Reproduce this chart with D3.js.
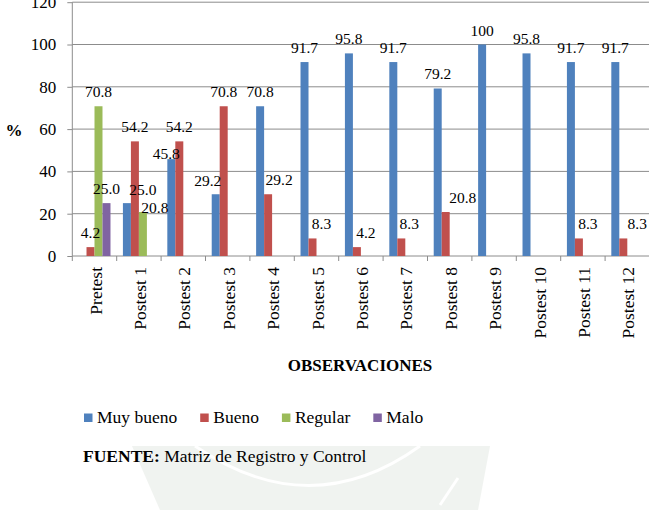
<!DOCTYPE html>
<html>
<head>
<meta charset="utf-8">
<script src="https://cdn.jsdelivr.net/npm/d3@7"></script>
<style>
  html, body { margin: 0; padding: 0; background: #fff; }
  svg { display: block; }
  svg text { font-family: "Liberation Serif", "Times New Roman", serif !important; fill: #000; }
</style>
</head>
<body>
<svg id="chart" width="649" height="510"></svg>
<script>
// ---- data ----
const categories = ["Pretest", "Postest 1", "Postest 2", "Postest 3", "Postest 4", "Postest 5",
  "Postest 6", "Postest 7", "Postest 8", "Postest 9", "Postest 10", "Postest 11", "Postest 12"];
const seriesNames = ["Muy bueno", "Bueno", "Regular", "Malo"];
const muyBueno = [null, 25.0, 45.8, 29.2, 70.8, 91.7, 95.8, 91.7, 79.2, 100, 95.8, 91.7, 91.7];
const bueno    = [4.2, 54.2, 54.2, 70.8, 29.2, 8.3, 4.2, 8.3, 20.8, null, null, 8.3, 8.3];
const regular  = [70.8, 20.8, null, null, null, null, null, null, null, null, null, null, null];
const malo     = [25.0, null, null, null, null, null, null, null, null, null, null, null, null];
const yTicks = [0, 20, 40, 60, 80, 100, 120];

// ---- styling / layout ----
const FONT = "Liberation Serif";
const colors = ["#4F81BD", "#C0504D", "#9BBB59", "#8064A2"];
const seriesValues = [muyBueno, bueno, regular, malo];
// label nudges (layout only): key "category|seriesIndex" -> [dx, dy]
const labelNudge = {
  "Postest 1|0": [16, 1], "Postest 1|2": [12, 10], "Postest 2|0": [-5, 9],
  "Postest 3|0": [-8, 1], "Postest 4|1": [11, 0], "Postest 5|1": [9, 0],
  "Postest 6|1": [9, 0], "Postest 7|1": [8, 0], "Postest 8|1": [17, 0],
  "Postest 11|1": [9, 0], "Postest 12|1": [14, 0]
};

const svg = d3.select("#chart");
const plot = { left: 72.3, right: 649.5, top: 2.2, bottom: 256 };
const gridColor = "#8c8c8c";

// watermark (faint background emblem)
const wm = svg.append("g").attr("opacity", 0.45);
wm.append("path")
  .attr("d", "M132,446 L490,446 L478,510 L160,510 Z")
  .attr("fill", "#dfe5de");
wm.append("path")
  .attr("d", "M195,446 Q310,525 420,446")
  .attr("fill", "none").attr("stroke", "#fff").attr("stroke-width", 3);
wm.append("path")
  .attr("d", "M440,505 L458,478")
  .attr("fill", "none").attr("stroke", "#fff").attr("stroke-width", 3);

const x0 = d3.scaleBand().domain(categories)
  .range([plot.left, plot.right]).paddingInner(0.28).paddingOuter(0.14);
const x1 = d3.scaleBand().domain(d3.range(seriesNames.length))
  .range([0, x0.bandwidth()]).padding(0);
const y = d3.scaleLinear().domain([0, 120]).range([plot.bottom, plot.top]);

// gridlines
svg.append("g").selectAll("line").data(yTicks.filter(d => d > 0)).join("line")
  .attr("x1", plot.left).attr("x2", plot.right)
  .attr("y1", d => y(d)).attr("y2", d => y(d))
  .attr("stroke", gridColor).attr("stroke-width", 1);

// y axis
const yAxis = d3.axisLeft(y).tickValues(yTicks).tickSize(5).tickPadding(11).tickFormat(d3.format("d"));
const gy = svg.append("g").attr("transform", `translate(${plot.left},0)`).call(yAxis)
  .attr("font-family", FONT).attr("font-size", "17px");
gy.select(".domain").attr("stroke", gridColor).attr("d", `M-0,${plot.top}V${plot.bottom}`);
gy.selectAll(".tick line").attr("stroke", gridColor);
gy.selectAll(".tick text").attr("font-size", "17px").attr("font-family", FONT).attr("fill", "#000");

// x axis
const xStep = x0.step();
const xAxisG = svg.append("g");
xAxisG.append("line").attr("x1", plot.left).attr("x2", plot.right)
  .attr("y1", plot.bottom).attr("y2", plot.bottom).attr("stroke", gridColor);
xAxisG.selectAll("line.tk").data(d3.range(categories.length + 1)).join("line")
  .attr("class", "tk")
  .attr("x1", i => plot.left + i * xStep).attr("x2", i => plot.left + i * xStep)
  .attr("y1", plot.bottom).attr("y2", plot.bottom + 5).attr("stroke", gridColor);
xAxisG.selectAll("text").data(categories).join("text")
  .attr("transform", d => `translate(${x0(d) + x0.bandwidth() / 2 + 7},267) rotate(-90)`)
  .attr("text-anchor", "end").attr("font-size", "17.5px").attr("font-family", FONT).text(d => d);

// bars
const flat = [];
categories.forEach((c, ci) => {
  seriesValues.forEach((vals, si) => {
    if (vals[ci] !== null) flat.push({ c, si, v: vals[ci] });
  });
});
svg.append("g").selectAll("rect").data(flat).join("rect")
  .attr("x", d => x0(d.c) + x1(d.si))
  .attr("width", x1.bandwidth())
  .attr("y", d => y(d.v))
  .attr("height", d => y(0) - y(d.v))
  .attr("fill", d => colors[d.si]);

// data labels
svg.append("g").selectAll("text").data(flat).join("text")
  .attr("x", d => x0(d.c) + x1(d.si) + x1.bandwidth() / 2 + (labelNudge[d.c + "|" + d.si] || [0, 0])[0])
  .attr("y", d => y(d.v) - 9 + (labelNudge[d.c + "|" + d.si] || [0, 0])[1])
  .attr("text-anchor", "middle").attr("font-size", "15.5px").attr("font-family", FONT)
  .text(d => d.v === 100 ? "100" : d3.format(".1f")(d.v));

// axis titles
svg.append("text").attr("x", 14).attr("y", 135.5).attr("text-anchor", "middle")
  .attr("font-size", "17px").attr("font-weight", "bold").attr("font-family", FONT).text("%");
svg.append("text").attr("x", 360).attr("y", 371).attr("text-anchor", "middle")
  .attr("font-size", "17px").attr("font-weight", "bold").attr("font-family", FONT).text("OBSERVACIONES");

// legend
const lg = svg.append("g");
let lx = 84;
seriesNames.forEach((name, i) => {
  lg.append("rect").attr("x", lx).attr("y", 413.5).attr("width", 8.5).attr("height", 8.5).attr("fill", colors[i]);
  const t = lg.append("text").attr("x", lx + 13).attr("y", 423).attr("font-size", "17.5px")
    .attr("font-family", FONT).text(name);
  lx += 13 + t.node().getComputedTextLength() + 23;
});

// source
const src = svg.append("text").attr("x", 83).attr("y", 462).attr("font-size", "17.5px").attr("font-family", FONT);
src.append("tspan").attr("font-weight", "bold").text("FUENTE:");
src.append("tspan").text(" Matriz de Registro y Control");
</script>
</body>
</html>
